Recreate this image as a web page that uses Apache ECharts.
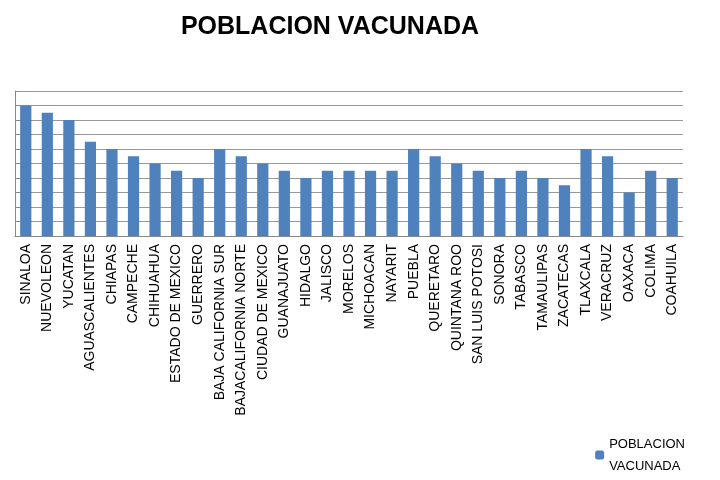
<!DOCTYPE html>
<html>
<head>
<meta charset="utf-8">
<script src="https://cdn.jsdelivr.net/npm/echarts@6/dist/echarts.min.js"></script>
<style>html,body{margin:0;padding:0;background:#fff}#chart{width:720px;height:480px}</style>
</head>
<body>
<div id="chart"></div>
<script>
const estados = ['SINALOA','NUEVOLEON','YUCATAN','AGUASCALIENTES','CHIAPAS','CAMPECHE','CHIHUAHUA','ESTADO DE MEXICO','GUERRERO','BAJA CALIFORNIA SUR','BAJACALIFORNIA NORTE','CIUDAD DE MEXICO','GUANAJUATO','HIDALGO','JALISCO','MORELOS','MICHOACAN','NAYARIT','PUEBLA','QUERETARO','QUINTANA ROO','SAN LUIS POTOSI','SONORA','TABASCO','TAMAULIPAS','ZACATECAS','TLAXCALA','VERACRUZ','OAXACA','COLIMA','COAHUILA'];
const vacunada = [9,8.5,8,6.5,6,5.5,5,4.5,4,6,5.5,5,4.5,4,4.5,4.5,4.5,4.5,6,5.5,5,4.5,4,4.5,4,3.5,6,5.5,3,4.5,4];

const chart = echarts.init(document.getElementById('chart'));
chart.setOption({
    animation: false,
    title: {
        text: 'POBLACION VACUNADA', left: 325, top: 10, textAlign: 'center',
        textStyle: { fontFamily: 'Liberation Sans', fontSize: 25, fontWeight: 'bold', color: '#000' }
    },
    legend: {
        right: 30, top: 428, orient: 'vertical', itemWidth: 9, itemHeight: 9,
        formatter: () => 'POBLACION\nVACUNADA',
        textStyle: { fontFamily: 'Liberation Sans', fontSize: 13, color: '#000', lineHeight: 22 }
    },
    grid: { left: 15, right: 37, top: 91, bottom: 244 },
    xAxis: {
        type: 'category', data: estados,
        axisTick: { show: false },
        axisLine: { lineStyle: { color: '#888' } },
        axisLabel: { rotate: 90, interval: 0, color: '#000', fontFamily: 'Liberation Sans', fontSize: 14, margin: 8 }
    },
    yAxis: {
        type: 'value', min: 0, max: 10, interval: 1,
        axisLabel: { show: false },
        axisLine: { show: true, lineStyle: { color: '#888' } },
        axisTick: { show: true, length: 5, inside: true, lineStyle: { color: '#888' } },
        splitLine: { lineStyle: { color: '#999' } }
    },
    series: [{
        name: 'POBLACION VACUNADA', type: 'bar', data: vacunada,
        barWidth: '52%', itemStyle: { color: '#4f81bd' }
    }]
});
</script>
</body>
</html>
